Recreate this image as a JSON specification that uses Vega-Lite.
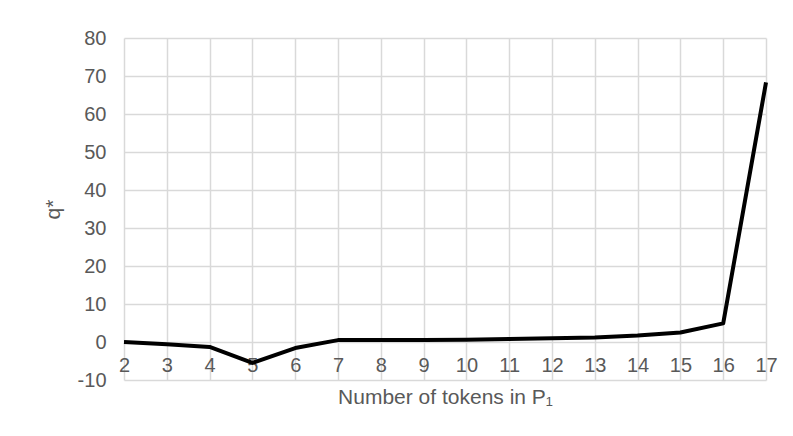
{
  "$schema": "https://vega.github.io/schema/vega-lite/v6.json",
  "width": 642,
  "height": 342,
  "autosize": "none",
  "padding": {"left": 124, "top": 38, "right": 27, "bottom": 56},
  "background": "white",
  "config": {
    "font": "Liberation Sans",
    "view": {"stroke": null},
    "axis": {
      "labelFont": "Liberation Sans",
      "titleFont": "Liberation Sans",
      "labelColor": "#595959",
      "titleColor": "#595959",
      "labelFontSize": 20,
      "titleFontSize": 21,
      "titleFontWeight": "normal",
      "gridColor": "#d9d9d9",
      "gridWidth": 1.5,
      "gridOpacity": 1,
      "ticks": false,
      "domain": false
    }
  },
  "data": {
    "values": [
      {"n": 2, "q": 0.0},
      {"n": 3, "q": -0.6},
      {"n": 4, "q": -1.3},
      {"n": 5, "q": -5.5},
      {"n": 6, "q": -1.6},
      {"n": 7, "q": 0.5},
      {"n": 8, "q": 0.5},
      {"n": 9, "q": 0.5},
      {"n": 10, "q": 0.6},
      {"n": 11, "q": 0.8},
      {"n": 12, "q": 1.0},
      {"n": 13, "q": 1.2},
      {"n": 14, "q": 1.7},
      {"n": 15, "q": 2.5},
      {"n": 16, "q": 4.9},
      {"n": 17, "q": 68.3}
    ]
  },
  "mark": {"type": "line", "color": "black", "strokeWidth": 4, "strokeJoin": "round", "strokeCap": "butt"},
  "encoding": {
    "x": {
      "field": "n",
      "type": "quantitative",
      "scale": {"domain": [2, 17], "nice": false, "zero": false},
      "axis": {
        "title": "Number of tokens in P₁",
        "values": [2, 3, 4, 5, 6, 7, 8, 9, 10, 11, 12, 13, 14, 15, 16, 17],
        "offset": -38,
        "labelPadding": 13,
        "titlePadding": 11,
        "labelFlush": false,
        "labelOverlap": false
      }
    },
    "y": {
      "field": "q",
      "type": "quantitative",
      "scale": {"domain": [-10, 80], "nice": false},
      "axis": {
        "title": "q*",
        "values": [-10, 0, 10, 20, 30, 40, 50, 60, 70, 80],
        "labelExpr": "toString(datum.value)",
        "labelPadding": 18,
        "titlePadding": 14
      }
    }
  }
}
